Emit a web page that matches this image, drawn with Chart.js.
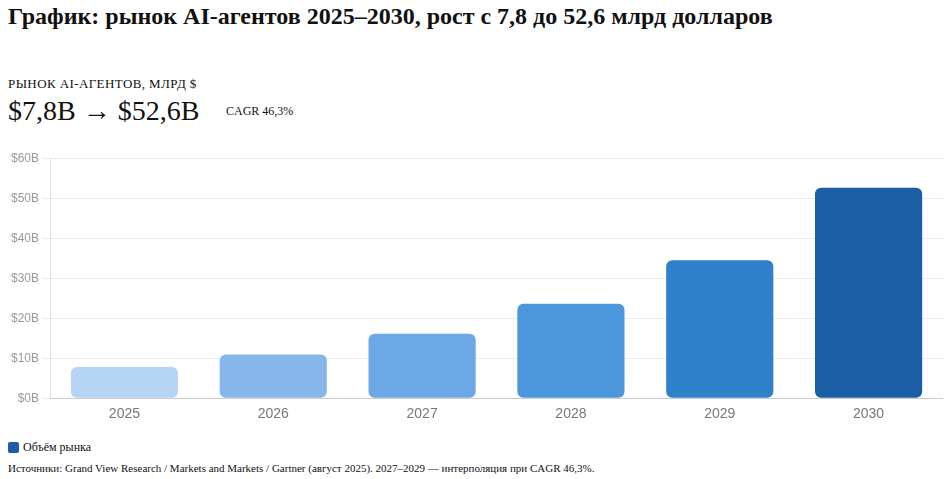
<!DOCTYPE html>
<html lang="ru">
<head>
<meta charset="utf-8">
<script src="https://cdn.jsdelivr.net/npm/chart.js@4.4.1/dist/chart.umd.min.js"></script>
<style>
  html, body { margin: 0; padding: 0; background: #fff; }
  body { width: 947px; height: 479px; position: relative; overflow: hidden;
         font-family: "Liberation Serif", "Times New Roman", serif; color: #111; }
  h1 { position: absolute; left: 8px; top: 3px; margin: 0; font-size: 24px; font-weight: bold; white-space: nowrap; }
  .kicker { position: absolute; left: 8px; top: 76px; font-size: 13px; letter-spacing: 0.4px; }
  .big { position: absolute; left: 8px; top: 95px; font-size: 28px; white-space: nowrap; }
  .cagr { position: absolute; left: 226px; top: 104px; font-size: 12px; }
  .chart-box { position: absolute; left: 8px; top: 148px; width: 935px; height: 275px; }
  .legend { position: absolute; left: 8px; top: 440px; font-size: 12px; display: flex; align-items: center; }
  .legend i { display: inline-block; width: 11px; height: 11px; background: #1b5ea6; border-radius: 2px; margin-right: 4px; }
  .source { position: absolute; left: 8px; top: 462px; font-size: 11px; white-space: nowrap; }
</style>
</head>
<body>
<h1>График: рынок AI-агентов 2025–2030, рост с 7,8 до 52,6 млрд долларов</h1>
<div class="kicker">РЫНОК AI-АГЕНТОВ, МЛРД $</div>
<div class="big">$7,8B → $52,6B</div>
<div class="cagr">CAGR 46,3%</div>
<div class="chart-box"><canvas id="chart"></canvas></div>
<div class="legend"><i></i>Объём рынка</div>
<div class="source">Источники: Grand View Research / Markets and Markets / Gartner (август 2025). 2027–2029 — интерполяция при CAGR 46,3%.</div>

<script>
// Данные графика
const years = ['2025', '2026', '2027', '2028', '2029', '2030'];
const marketSize = [7.8, 10.9, 16.1, 23.6, 34.5, 52.6];
const yTicks = [0, 10, 20, 30, 40, 50, 60];
const barColors = ['#b6d4f4', '#87b7ea', '#6ca8e5', '#4c97dc', '#2f81cc', '#1b5ea6'];

new Chart(document.getElementById('chart').getContext('2d'), {
    type: 'bar',
    data: {
        labels: years,
        datasets: [{
            label: 'Объём рынка',
            data: marketSize,
            backgroundColor: barColors,
            borderRadius: 6,
            borderSkipped: false
        }]
    },
    options: {
        responsive: true,
        maintainAspectRatio: false,
        animation: false,
        layout: { padding: 0 },
        plugins: {
            legend: { display: false },
            tooltip: { enabled: false }
        },
        scales: {
            y: {
                min: 0,
                max: 60,
                afterBuildTicks: (axis) => { axis.ticks = yTicks.map(v => ({ value: v })); },
                grid: { color: '#ebebeb', tickLength: 8 },
                border: { color: '#e3e3e3' },
                ticks: {
                    color: '#999',
                    padding: 3,
                    font: { family: 'Liberation Sans, Arial, sans-serif', size: 12 },
                    callback: (v) => '$' + v + 'B'
                }
            },
            x: {
                grid: { display: false },
                border: { color: '#cccccc' },
                ticks: {
                    color: '#777',
                    padding: 0,
                    font: { family: 'Liberation Sans, Arial, sans-serif', size: 14 }
                }
            }
        }
    }
});
</script>
</body>
</html>
